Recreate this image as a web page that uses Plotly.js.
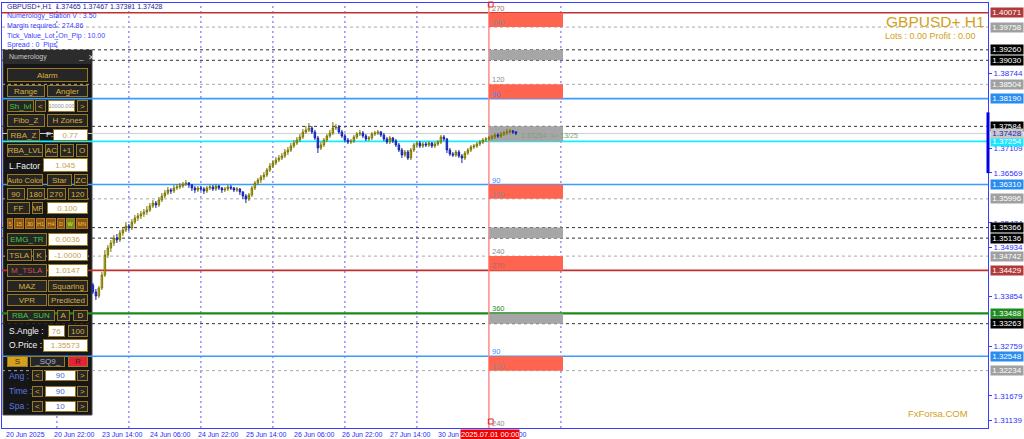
<!DOCTYPE html>
<html><head><meta charset="utf-8">
<script src="https://cdn.plot.ly/plotly-3.0.1.min.js"></script>
<style>html,body{margin:0;padding:0;background:#fff;overflow:hidden}#chart{width:1024px;height:439px;}</style>
</head><body><div id="chart"></div>
<script>
// ---------------- DATA ----------------
const firstBar = 30; // bar index of first visible candle (bar 0 = 20 Jun 2025 06:00, H1)
const openP = [
1.34110,1.33956,1.33869,1.34044,1.34329,1.34766,1.34920,1.35029,1.35139,1.35095,
1.35248,1.35314,1.35402,1.35358,1.35489,1.35577,1.35621,1.35665,1.35708,1.35752,
1.35840,1.35905,1.35862,1.35971,1.36059,1.36125,1.36190,1.36168,1.36234,1.36256,
1.36278,1.36322,1.36344,1.36300,1.36234,1.36190,1.36234,1.36212,1.36168,1.36234,
1.36256,1.36212,1.36278,1.36234,1.36190,1.36212,1.36256,1.36234,1.36190,1.36212,
1.36147,1.36059,1.35993,1.36081,1.36234,1.36344,1.36409,1.36475,1.36519,1.36628,
1.36716,1.36781,1.36847,1.36891,1.36935,1.37022,1.37066,1.37154,1.37219,1.37285,
1.37351,1.37460,1.37504,1.37548,1.37460,1.37329,1.37110,1.37176,1.37285,1.37373,
1.37438,1.37548,1.37570,1.37460,1.37373,1.37285,1.37241,1.37263,1.37351,1.37416,
1.37438,1.37373,1.37307,1.37329,1.37416,1.37438,1.37460,1.37394,1.37307,1.37241,
1.37329,1.37263,1.37176,1.37066,1.36957,1.37022,1.36891,1.37066,1.37176,1.37219,
1.37154,1.37197,1.37176,1.37219,1.37154,1.37197,1.37241,1.37351,1.37307,1.37066,
1.36978,1.36957,1.37022,1.36935,1.36891,1.37000,1.37066,1.37132,1.37154,1.37197,
1.37241,1.37285,1.37307,1.37329,1.37351,1.37394,1.37373,1.37416,1.37438,1.37460,
1.37482,1.37465];
const highP = [
1.34154,1.34022,1.34088,1.34395,1.34876,1.34986,1.35095,1.35204,1.35226,1.35314,
1.35380,1.35489,1.35445,1.35555,1.35643,1.35686,1.35730,1.35774,1.35840,1.35905,
1.35971,1.35949,1.36037,1.36125,1.36190,1.36256,1.36234,1.36300,1.36322,1.36344,
1.36365,1.36409,1.36365,1.36322,1.36278,1.36278,1.36278,1.36256,1.36278,1.36300,
1.36300,1.36322,1.36300,1.36256,1.36256,1.36300,1.36300,1.36256,1.36256,1.36234,
1.36168,1.36103,1.36125,1.36278,1.36387,1.36453,1.36519,1.36584,1.36672,1.36781,
1.36847,1.36913,1.36957,1.37000,1.37088,1.37132,1.37219,1.37285,1.37351,1.37416,
1.37526,1.37592,1.37657,1.37592,1.37504,1.37373,1.37241,1.37329,1.37416,1.37504,
1.37679,1.37635,1.37614,1.37504,1.37416,1.37329,1.37307,1.37394,1.37460,1.37504,
1.37482,1.37416,1.37373,1.37460,1.37482,1.37504,1.37482,1.37438,1.37351,1.37373,
1.37351,1.37307,1.37219,1.37110,1.37066,1.37066,1.37110,1.37219,1.37263,1.37263,
1.37241,1.37241,1.37263,1.37241,1.37241,1.37285,1.37394,1.37394,1.37329,1.37110,
1.37022,1.37066,1.37066,1.36978,1.37044,1.37110,1.37176,1.37197,1.37241,1.37285,
1.37329,1.37351,1.37373,1.37394,1.37438,1.37438,1.37460,1.37482,1.37526,1.37526,
1.37504,1.37467];
const lowP = [
1.33912,1.33781,1.33825,1.34000,1.34285,1.34701,1.34833,1.34964,1.35029,1.35051,
1.35183,1.35270,1.35292,1.35314,1.35445,1.35511,1.35555,1.35599,1.35643,1.35708,
1.35796,1.35796,1.35818,1.35927,1.36015,1.36081,1.36103,1.36125,1.36190,1.36212,
1.36234,1.36278,1.36234,1.36168,1.36125,1.36147,1.36168,1.36103,1.36125,1.36190,
1.36168,1.36168,1.36190,1.36125,1.36147,1.36168,1.36190,1.36147,1.36147,1.36081,
1.35993,1.35905,1.35949,1.36037,1.36190,1.36300,1.36344,1.36409,1.36475,1.36584,
1.36672,1.36738,1.36803,1.36847,1.36891,1.36957,1.37022,1.37110,1.37176,1.37241,
1.37307,1.37416,1.37460,1.37416,1.37285,1.37000,1.37066,1.37132,1.37241,1.37329,
1.37394,1.37504,1.37416,1.37329,1.37241,1.37197,1.37197,1.37219,1.37307,1.37373,
1.37329,1.37263,1.37263,1.37285,1.37373,1.37394,1.37351,1.37263,1.37197,1.37197,
1.37219,1.37132,1.37022,1.36891,1.36913,1.36847,1.36847,1.37022,1.37132,1.37110,
1.37110,1.37132,1.37132,1.37110,1.37110,1.37154,1.37197,1.37263,1.37000,1.36935,
1.36913,1.36913,1.36891,1.36781,1.36847,1.36957,1.37022,1.37088,1.37110,1.37154,
1.37197,1.37241,1.37263,1.37285,1.37307,1.37329,1.37329,1.37373,1.37394,1.37416,
1.37416,1.37391];
const closeP = [
1.33956,1.33869,1.34044,1.34329,1.34766,1.34920,1.35029,1.35139,1.35095,1.35248,
1.35314,1.35402,1.35358,1.35489,1.35577,1.35621,1.35665,1.35708,1.35752,1.35840,
1.35905,1.35862,1.35971,1.36059,1.36125,1.36190,1.36168,1.36234,1.36256,1.36278,
1.36322,1.36344,1.36300,1.36234,1.36190,1.36234,1.36212,1.36168,1.36234,1.36256,
1.36212,1.36278,1.36234,1.36190,1.36212,1.36256,1.36234,1.36190,1.36212,1.36147,
1.36059,1.35993,1.36081,1.36234,1.36344,1.36409,1.36475,1.36519,1.36628,1.36716,
1.36781,1.36847,1.36891,1.36935,1.37022,1.37066,1.37154,1.37219,1.37285,1.37351,
1.37460,1.37504,1.37548,1.37460,1.37329,1.37110,1.37176,1.37285,1.37373,1.37438,
1.37548,1.37570,1.37460,1.37373,1.37285,1.37241,1.37263,1.37351,1.37416,1.37438,
1.37373,1.37307,1.37329,1.37416,1.37438,1.37460,1.37394,1.37307,1.37241,1.37329,
1.37263,1.37176,1.37066,1.36957,1.37022,1.36891,1.37066,1.37176,1.37219,1.37154,
1.37197,1.37176,1.37219,1.37154,1.37197,1.37241,1.37351,1.37307,1.37066,1.36978,
1.36957,1.37022,1.36935,1.36891,1.37000,1.37066,1.37132,1.37154,1.37197,1.37241,
1.37285,1.37307,1.37329,1.37351,1.37394,1.37373,1.37416,1.37438,1.37460,1.37482,
1.37460,1.37428];

const timeLabels = ['20 Jun 2025','20 Jun 22:00','23 Jun 14:00','24 Jun 06:00','24 Jun 22:00','25 Jun 14:00','26 Jun 06:00','26 Jun 22:00','27 Jun 14:00','30 Jun 06:00','30 Jun 22:00'];
const timeLabelBars = [0,16,32,48,64,80,96,112,128,144,160];
const markerBar = 162;
const markerLabel = '2025.07.01 00:00';
const timeLineBars = [18,42,66,90,114,138,186];
const zoneEndBar = 186.7;

const levelPrices = [1.40071,1.39758,1.39260,1.39030,1.38504,1.38190,1.37584,1.37254,1.36310,1.35996,1.35366,1.35136,1.34742,1.34429,1.33488,1.33263,1.32548,1.32234];
const levelKinds  = ['red','gray','black','black','gray','blue','black','cyan','blue','gray','black','black','gray','red','green','black','blue','gray'];
const angleLevels = [1.40071,1.39758,1.38504,1.38190,1.36310,1.35996,1.34742,1.34429,1.33488,1.32548,1.32234,1.30980];
const angleTexts  = ['270','240','120','90','90','120','240','270','360','90','120','240'];
const angleKinds  = ['red','gray','gray','blue','blue','gray','gray','red','green','blue','gray','gray'];

const zoneTops    = [1.40071,1.39260,1.38504,1.37584,1.36310,1.35366,1.34742,1.33488,1.32548];
const zoneBottoms = [1.39758,1.39030,1.38190,1.37254,1.35996,1.35136,1.34429,1.33263,1.32234];
const zoneKinds   = ['red','gray','red','gray','red','gray','red','gray','red'];

const bidPrice = 1.37428;
const axisTicks = [1.38744,1.37109,1.36569,1.35474,1.34934,1.33854,1.32759,1.31679,1.31139];
const dayRange = [1.37890,1.36560];

const headerText = 'GBPUSD+,H1  1.37465 1.37467 1.37391 1.37428';
const infoLines = ['Numerology_Station V : 3.50','Margin required : 274.86','Tick_Value_Lot_On_Pip : 10.00','Spread : 0  Pips'];

// ---------------- LAYOUT HELPERS ----------------
const ML=2, MT=3, PW=986, PH=425;
const px = x => (x-ML)/PW;
const py = y => 1-(y-MT)/PH;
const FONT = 'Liberation Sans, Arial, sans-serif';

const lineStyle = {
  red:   {color:'#c03030', width:1.6, dash:'solid'},
  gray:  {color:'#a8a8a8', width:1, dash:'3px,3px'},
  black: {color:'#303030', width:1, dash:'3px,3px'},
  blue:  {color:'#3a9cff', width:1.6, dash:'solid'},
  cyan:  {color:'#10f0ff', width:1.8, dash:'solid'},
  green: {color:'#1a8a1a', width:2.2, dash:'solid'}
};
const labelBg = {red:'#b03a3a', gray:'#a0a0a0', black:'#000000', blue:'#2a8cf0', cyan:'#18e8ff', green:'#1f8a1f'};
const angleColor = {red:'#b06a6a', gray:'#8c8c8c', blue:'#3a8cff', green:'#2e8b2e'};
const zoneFill = {red:'#ff6450', gray:'#a6a6a6'};

const shapes = [];
const annotations = [];

// time lines (behind panel)
timeLineBars.forEach(b => shapes.push({type:'line', layer:'below', xref:'x', yref:'paper', x0:b, x1:b, y0:0, y1:1,
  line:{color:'#5a5aff', width:1, dash:'2px,3px'}}));

// panel background
shapes.push({type:'rect', layer:'below', xref:'paper', yref:'paper', x0:px(3), x1:px(92), y0:py(415), y1:py(50),
  fillcolor:'#161616', line:{color:'#4a4a4a', width:1}});
shapes.push({type:'rect', layer:'below', xref:'paper', yref:'paper', x0:px(3), x1:px(92), y0:py(64), y1:py(50),
  fillcolor:'#2c2c2c', line:{width:0}});

// zones
zoneTops.forEach((t,i) => shapes.push({type:'rect', layer:'below', xref:'x', yref:'y', x0:markerBar, x1:zoneEndBar,
  y0:zoneBottoms[i], y1:t, fillcolor:zoneFill[zoneKinds[i]], line:{width:0}}));

// level lines
levelPrices.forEach((p,i) => { const s=lineStyle[levelKinds[i]];
  shapes.push({type:'line', layer:'below', xref:'paper', yref:'y', x0:0, x1:1, y0:p, y1:p, line:{color:s.color, width:s.width, dash:s.dash}});
});
// bid line
shapes.push({type:'line', layer:'below', xref:'paper', yref:'y', x0:0, x1:1, y0:bidPrice, y1:bidPrice, line:{color:'#cfcfcf', width:1}});
// marker vertical line
shapes.push({type:'line', layer:'below', xref:'x', yref:'paper', x0:markerBar, x1:markerBar, y0:0, y1:1, line:{color:'#ff8a8a', width:1.5}});
shapes.push({type:'rect', layer:'above', xref:'x', yref:'paper', x0:markerBar-0.2, x1:markerBar+1.4, y0:py(7), y1:py(2), line:{color:'#e02020', width:1}});
shapes.push({type:'rect', layer:'above', xref:'x', yref:'paper', x0:markerBar-0.2, x1:markerBar+1.4, y0:py(424), y1:py(419), line:{color:'#e02020', width:1}});
// day range thick segment on axis
shapes.push({type:'line', layer:'above', xref:'paper', yref:'y', x0:1, x1:1, y0:dayRange[1], y1:dayRange[0], line:{color:'#0000e6', width:3}});

// angle texts
angleLevels.forEach((p,i) => annotations.push({xref:'x', yref:'y', x:markerBar+0.6, y:p, xanchor:'left', yanchor:'bottom',
  text:angleTexts[i], showarrow:false, font:{family:FONT, size:7.5, color:angleColor[angleKinds[i]]}, borderpad:0, yshift:-1}));
annotations.push({xref:'x', yref:'y', x:markerBar+10, y:1.37254, xanchor:'left', yanchor:'bottom', yshift:0,
  text:'1.37254  >> 13/25', showarrow:false, font:{family:FONT, size:7, color:'#7aa07a'}});

// right price labels
levelPrices.forEach((p,i) => annotations.push({xref:'paper', yref:'y', x:1, y:p, xanchor:'left', yanchor:'middle', xshift:2,
  text:p.toFixed(5), showarrow:false, bgcolor:labelBg[levelKinds[i]], width:32, height:9, borderpad:0,
  font:{family:FONT, size:8, color:'#ffffff'}}));
annotations.push({xref:'paper', yref:'y', x:1, y:bidPrice, xanchor:'left', yanchor:'middle', xshift:2,
  text:bidPrice.toFixed(5), showarrow:false, bgcolor:'#c8c8c8', width:32, height:9, borderpad:0,
  font:{family:FONT, size:8, color:'#2020c0'}});

// time labels
timeLabels.forEach((t,i) => annotations.push({xref:'x', yref:'paper', x:timeLabelBars[i]+0.2, y:0, xanchor:'left', yanchor:'top', yshift:-1,
  text:t, showarrow:false, font:{family:FONT, size:7, color:'#2a2aff'}}));
annotations.push({xref:'x', yref:'paper', x:markerBar+0.3, y:0, xanchor:'center', yanchor:'top', yshift:-1,
  text:markerLabel, showarrow:false, bgcolor:'#f00000', borderpad:0, font:{family:FONT, size:7.5, color:'#ffffff'}});

// header and info text
function txt(x, y, t, size, color, extra){ annotations.push(Object.assign({xref:'paper', yref:'paper', x:px(x), y:py(y), xanchor:'left', yanchor:'middle',
  text:t, showarrow:false, font:{family:FONT, size:size, color:color}}, extra||{})); }
txt(5, 7, headerText, 7, '#1c1c90');
infoLines.forEach((t,i) => txt(5, 16.5+9.6*i, t, 7, '#3c3cff'));
txt(884, 21, 'GBPUSD+ H1', 15.5, '#d4a017');
txt(883, 36, 'Lots : 0.00 Profit : 0.00', 9, '#d4a017');
txt(906, 413, 'FxForsa.COM', 9.5, '#d4a017');

// panel controls
const st = {
  btn:{bg:'#262626', bd:'#9a7a1e', fc:'#dcae3a'},
  btnG:{bg:'#262626', bd:'#9a7a1e', fc:'#40c840'},
  btnR:{bg:'#262626', bd:'#9a7a1e', fc:'#d05050'},
  inp:{bg:'#ffffff', bd:'#9a7a1e', fc:'#c8a050'},
  inpS:{bg:'#ffffff', bd:'#9a7a1e', fc:'#909090'},
  inpB:{bg:'#ffffff', bd:'#9a7a1e', fc:'#4a68d0'},
  tf:{bg:'#8a5414', bd:'#b07820', fc:'#f0c040'},
  tfW:{bg:'#6e8a14', bd:'#b07820', fc:'#f0e040'},
  S:{bg:'#d4a020', bd:'#9a7a1e', fc:'#3a2a00'},
  R:{bg:'#e8203a', bd:'#9a7a1e', fc:'#402020'},
  sq:{bg:'#262626', bd:'#9a7a1e', fc:'#a8b4d8'}
};
function btn(x0,y0,x1,y1,t,s,fs){ const k=st[s];
  annotations.push({xref:'paper', yref:'paper', x:px(x0), y:py(y0), xanchor:'left', yanchor:'top',
    width:x1-x0-2, height:y1-y0-2, text:t, showarrow:false, bgcolor:k.bg, bordercolor:k.bd, borderwidth:1, borderpad:0,
    align:'center', valign:'middle', font:{family:FONT, size:fs||8, color:k.fc}}); }
function lab(x,y,t,c,fs){ txt(x,y,t,fs||8.5,c); }

lab(7,57,'Numerology','#c8c8c8',7);
lab(76,56,'_','#d0d0d0',8);
lab(86,57,'✕','#d0d0d0',8);
btn(7,68,88,82,'Alarm','btn');
btn(7,85,45,97,'Range','btn'); btn(47,85,88,97,'Angler','btn');
btn(7,100,34,112,'Sh_lvl','btnG'); btn(35,100,46,112,'<','btn'); btn(48,100,75,112,'10000.000','inpS',5.5); btn(77,100,88,112,'>','btn');
btn(7,114,45,127,'Fibo_Z','btn'); btn(47,114,88,127,'H Zones','btn');
btn(7,129,40,141,'RBA_Z','btn'); lab(44,135,'F:','#f0f0f0',8); btn(53,129,88,141,'0.77','inp');
btn(7,144,43,157,'RBA_LVL','btn'); btn(45,144,58,157,'AC','btn'); btn(60,144,74,157,'+1','btn'); btn(76,144,88,157,'O','btn');
lab(7,166,'L.Factor :','#f4f4f4',8.5); btn(43,158,88,172,'1.045','inp');
btn(7,174,43,186,'Auto Color','btn',7.5); btn(47,174,72,186,'Star','btn'); btn(74,174,88,186,'ZC','btn');
btn(7,188,25,200,'90','btn'); btn(27,188,45,200,'180','btn'); btn(47,188,66,200,'270','btn'); btn(68,188,88,200,'120','btn');
btn(7,202,30,214,'FF','btn'); btn(32,202,43,214,'MF','btn'); btn(47,202,88,214,'0.100','inp');
[['5',7,13],['15',14,24],['30',25,35],['H1',36,45],['H4',46,56],['D',57,65],['W',66,75],['MN',76,88]].forEach(a =>
  btn(a[1],218,a[2],229,a[0], a[0]==='W'?'tfW':'tf',5.5));
btn(7,233,47,246,'EMG_TR','btnG'); btn(48,233,88,246,'0.0036','inp');
btn(7,249,32,261,'TSLA','btn'); btn(33,249,46,261,'K','btn'); btn(48,249,88,261,'-1.0000','inp');
btn(7,264,47,277,'M_TSLA','btnR'); btn(48,264,88,277,'1.0147','inp');
btn(7,280,47,292,'MAZ','btn'); btn(48,280,88,292,'Squaring','btn');
btn(7,294,47,306,'VPR','btn'); btn(48,294,88,306,'Predicted','btn');
btn(7,310,55,321,'RBA_SUN','btnG'); btn(57,310,70,321,'A','btn'); btn(73,310,88,321,'D','btn');
lab(7,331,'S.Angle :','#f4f4f4',8.5); btn(48,325,65,337,'76','inp'); btn(68,325,88,337,'100','btn');
lab(7,345,'O.Price :','#f4f4f4',8.5); btn(43,339,88,352,'1.35573','inp');
btn(7,356,28,367,'S','S'); btn(30,356,65,367,'_SQ9_','sq'); btn(68,356,88,367,'R','R');
lab(7,376,'Ang :','#5a78e0',8.5); btn(32,370,43,381,'<','btn'); btn(45,370,76,381,'90','inpB'); btn(77,370,88,381,'>','btn');
lab(7,391,'Time :','#5a78e0',8.5); btn(32,386,43,397,'<','btn'); btn(45,386,76,397,'90','inpB'); btn(77,386,88,397,'>','btn');
lab(7,406,'Spa :','#5a78e0',8.5); btn(32,401,43,412,'<','btn'); btn(45,401,76,412,'10','inpB'); btn(77,401,88,412,'>','btn');

// ---------------- TRACE ----------------
const bars = closeP.map((_,i) => firstBar+i);
const trace = {type:'candlestick', x:bars, open:openP, high:highP, low:lowP, close:closeP,
  increasing:{line:{color:'#7a7400', width:1}, fillcolor:'#e0d418'},
  decreasing:{line:{color:'#1424b0', width:1}, fillcolor:'#2c40ea'},
  whiskerwidth:0, hoverinfo:'skip', showlegend:false};

const layout = {
  width:1024, height:439, margin:{l:ML, r:1024-ML-PW, t:MT, b:439-MT-PH},
  paper_bgcolor:'#ffffff', plot_bgcolor:'#ffffff', showlegend:false,
  xaxis:{range:[-0.3, PW/3-0.3], showgrid:false, zeroline:false, showticklabels:false, ticks:'',
    showline:true, linecolor:'#3c3cff', linewidth:1, mirror:true, rangeslider:{visible:false}, fixedrange:true},
  yaxis:{side:'right', range:[1.30978,1.40285], tickvals:axisTicks, ticktext:axisTicks.map(v=>v.toFixed(5)),
    ticks:'outside', ticklen:3, tickcolor:'#3c3cff', tickfont:{family:FONT, size:8, color:'#3030ff'},
    showgrid:false, zeroline:false, showline:true, linecolor:'#3c3cff', linewidth:1, mirror:true, fixedrange:true},
  shapes:shapes, annotations:annotations
};
Plotly.newPlot('chart', [trace], layout, {staticPlot:true, displayModeBar:false});
</script>
</body></html>
